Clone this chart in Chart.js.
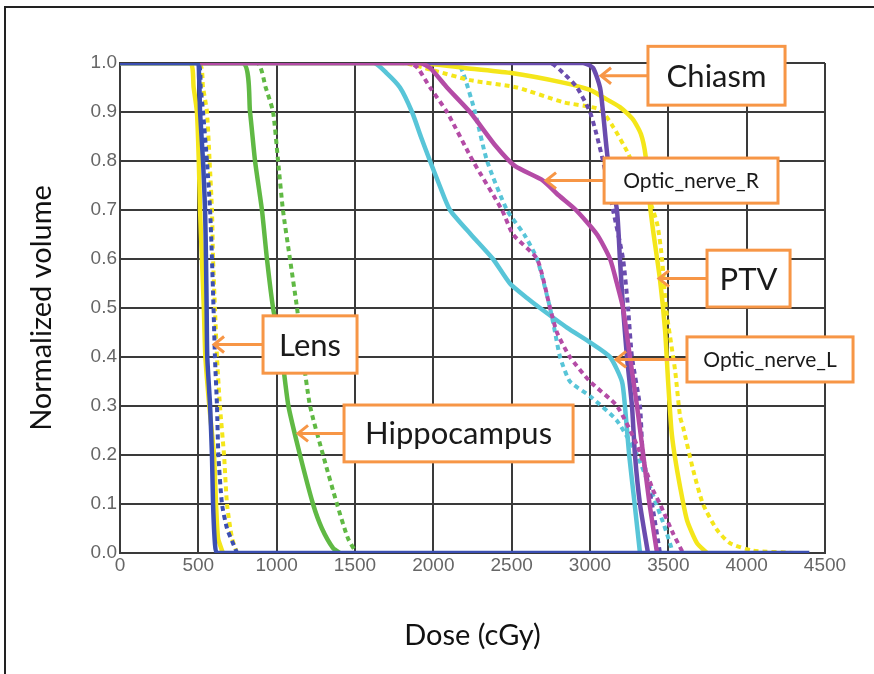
<!DOCTYPE html>
<html>
<head>
<meta charset="utf-8">
<script src="https://cdn.jsdelivr.net/npm/chart.js@4/dist/chart.umd.min.js"></script>
<style>
  html, body { margin: 0; padding: 0; background: #fff; }
  #wrap { width: 874px; height: 674px; }
</style>
</head>
<body>
<div id="wrap"><canvas id="dvh"></canvas></div>
<script>
// DVH curves: [dose (cGy), normalized volume]
const lensBlueSolid = [[0,1],[490,1],[505,0.97],[511,0.9],[530,0.8],[543,0.7],[549,0.6],[553,0.5],[557,0.4],[575,0.3],[587,0.2],[594,0.1],[606,0.02],[620,0],[4400,0]];
const lensBlueDotted = [[0,1],[495,1],[515,0.95],[530,0.9],[555,0.8],[575,0.7],[587,0.6],[597,0.5],[606,0.4],[619,0.3],[628,0.2],[651,0.1],[683,0.05],[721,0.02],[747,0]];
const lensYellowSolid = [[0,1],[447,1],[470,0.95],[491,0.9],[503,0.8],[511,0.7],[523,0.6],[535,0.5],[545,0.4],[570,0.3],[600,0.2],[613,0.1],[626,0.03],[657,0]];
const lensYellowDotted = [[0,1],[505,1],[530,0.95],[555,0.9],[572,0.8],[587,0.7],[594,0.6],[606,0.5],[619,0.4],[638,0.3],[664,0.2],[683,0.1],[715,0.03],[747,0]];

const hippoSolid = [[0,1],[785,1],[830,0.9],[862,0.8],[906,0.7],[938,0.6],[977,0.5],[1034,0.4],[1075,0.3],[1149,0.2],[1232,0.1],[1289,0.05],[1360,0.01],[1404,0]];
const hippoDotted = [[0,1],[874,1],[930,0.95],[977,0.9],[1009,0.8],[1040,0.7],[1085,0.6],[1130,0.5],[1168,0.4],[1213,0.3],[1296,0.2],[1385,0.1],[1455,0.03],[1513,0],[1560,0]];

const nerveLSolid = [[0,1],[1620,1],[1700,0.98],[1787,0.95],[1864,0.9],[1920,0.85],[1979,0.8],[2040,0.75],[2106,0.7],[2240,0.65],[2381,0.6],[2489,0.55],[2600,0.52],[2681,0.5],[2853,0.46],[3000,0.43],[3128,0.4],[3204,0.35],[3223,0.3],[3250,0.2],[3285,0.1],[3319,0]];
const nerveLDotted = [[0,1],[2150,1],[2190,0.98],[2266,0.9],[2343,0.8],[2470,0.7],[2580,0.65],[2662,0.6],[2745,0.5],[2777,0.45],[2809,0.4],[2872,0.35],[3000,0.32],[3172,0.27],[3300,0.2],[3400,0.12],[3480,0.05],[3530,0]];

const nerveRSolid = [[500,1],[1915,1],[1979,0.99],[2087,0.95],[2234,0.9],[2400,0.83],[2520,0.79],[2700,0.76],[2800,0.73],[2910,0.7],[3045,0.65],[3128,0.6],[3172,0.55],[3211,0.5],[3255,0.4],[3300,0.3],[3340,0.2],[3380,0.1],[3428,0]];
const nerveRDotted = [[500,1],[1850,1],[1900,0.99],[1979,0.95],[2087,0.9],[2253,0.8],[2438,0.7],[2509,0.65],[2662,0.6],[2745,0.5],[2789,0.45],[2872,0.4],[3000,0.35],[3172,0.3],[3300,0.22],[3400,0.13],[3447,0.1],[3530,0.04],[3594,0]];

const chiasmSolid = [[0,1],[2955,1],[3019,0.99],[3064,0.95],[3083,0.9],[3115,0.8],[3172,0.7],[3191,0.6],[3211,0.5],[3236,0.4],[3268,0.3],[3287,0.2],[3319,0.1],[3370,0]];
const chiasmDotted = [[0,1],[2745,1],[2828,0.98],[2917,0.95],[3000,0.9],[3045,0.85],[3083,0.8],[3147,0.7],[3211,0.6],[3243,0.5],[3268,0.4],[3319,0.3],[3338,0.2],[3396,0.1],[3447,0]];

const ptvSolid = [[0,1],[1900,1],[2200,0.99],[2489,0.98],[2828,0.96],[3000,0.945],[3083,0.93],[3191,0.91],[3274,0.885],[3325,0.855],[3355,0.81],[3383,0.71],[3402,0.66],[3447,0.557],[3479,0.455],[3498,0.353],[3520,0.25],[3540,0.2],[3575,0.135],[3619,0.067],[3683,0.02],[3747,0]];
const ptvDotted = [[0,1],[1800,1],[2000,0.985],[2234,0.965],[2534,0.95],[2828,0.92],[3064,0.905],[3147,0.87],[3236,0.82],[3300,0.775],[3380,0.72],[3430,0.67],[3460,0.6],[3485,0.5],[3543,0.373],[3575,0.278],[3594,0.257],[3658,0.17],[3721,0.1],[3811,0.047],[3894,0.02],[4040,0.005],[4320,0]];

const xTicks = [0, 500, 1000, 1500, 2000, 2500, 3000, 3500, 4000, 4500];
const yTicks = [0, 0.1, 0.2, 0.3, 0.4, 0.5, 0.6, 0.7, 0.8, 0.9, 1.0];

// callout boxes, in data units (box corners + where the arrow points)
const callouts = [
  { text: 'Chiasm',        x0: 3370, x1: 4245, y0: 1.034, y1: 0.914, tip: 3064, size: 31 },
  { text: 'Optic_nerve_R', x0: 3090, x1: 4200, y0: 0.806, y1: 0.714, tip: 2713, size: 21 },
  { text: 'PTV',           x0: 3747, x1: 4277, y0: 0.618, y1: 0.502, tip: 3434, size: 31 },
  { text: 'Optic_nerve_L', x0: 3619, x1: 4679, y0: 0.441, y1: 0.349, tip: 3160, size: 21 },
  { text: 'Lens',          x0: 913,  x1: 1513, y0: 0.484, y1: 0.367, tip: 594,  size: 31 },
  { text: 'Hippocampus',   x0: 1430, x1: 2892, y0: 0.302, y1: 0.186, tip: 1130, size: 31 }
];

const BLUE = '#3b4fb2';
const YELLOW = '#f4e61a';
const GREEN = '#60b944';
const CYAN = '#58c5d8';
const MAGENTA = '#b44ba6';
const PURPLE = '#6a4cae';

const toXY = arr => arr.map(p => ({ x: p[0], y: p[1] }));

function curve(data, color, dotted) {
  return {
    data: toXY(data),
    borderColor: color,
    backgroundColor: color,
    borderWidth: dotted ? 4 : 4.5,
    borderDash: dotted ? [5, 4] : [],
    pointRadius: 0,
    tension: 0.2,
    fill: false
  };
}

// first dataset ends up on top
const datasets = [
  curve(lensBlueSolid, BLUE, false),
  curve(lensBlueDotted, BLUE, true),
  curve(nerveRSolid, MAGENTA, false),
  curve(nerveRDotted, MAGENTA, true),
  curve(chiasmSolid, PURPLE, false),
  curve(chiasmDotted, PURPLE, true),
  curve(ptvSolid, YELLOW, false),
  curve(ptvDotted, YELLOW, true),
  curve(nerveLSolid, CYAN, false),
  curve(nerveLDotted, CYAN, true),
  curve(hippoSolid, GREEN, false),
  curve(hippoDotted, GREEN, true),
  curve(lensYellowSolid, YELLOW, false),
  curve(lensYellowDotted, YELLOW, true)
];

// white page + the left/top frame lines of the figure
const framePlugin = {
  id: 'frame',
  beforeDraw(chart) {
    const ctx = chart.ctx;
    ctx.save();
    ctx.fillStyle = '#fff';
    ctx.fillRect(0, 0, chart.width, chart.height);
    ctx.strokeStyle = '#222';
    ctx.lineWidth = 2;
    ctx.beginPath();
    ctx.moveTo(5, chart.height);
    ctx.lineTo(5, 7);
    ctx.lineTo(chart.width, 7);
    ctx.stroke();
    ctx.restore();
  }
};

// orange labelled boxes with arrows
const calloutPlugin = {
  id: 'callouts',
  afterDatasetsDraw(chart) {
    const ctx = chart.ctx;
    const xs = chart.scales.x, ys = chart.scales.y;
    ctx.save();
    callouts.forEach(c => {
      const left = xs.getPixelForValue(c.x0), right = xs.getPixelForValue(c.x1);
      const top = ys.getPixelForValue(c.y0), bottom = ys.getPixelForValue(c.y1);
      const midY = (top + bottom) / 2;
      const tipX = xs.getPixelForValue(c.tip);

      ctx.strokeStyle = '#f79646';
      ctx.lineWidth = 3;
      ctx.lineCap = 'butt';
      ctx.beginPath();
      ctx.moveTo(left, midY);
      ctx.lineTo(tipX + 2, midY);
      ctx.stroke();
      ctx.beginPath();
      ctx.moveTo(tipX + 11, midY - 8);
      ctx.lineTo(tipX + 1, midY);
      ctx.lineTo(tipX + 11, midY + 8);
      ctx.stroke();

      ctx.fillStyle = '#fff';
      ctx.fillRect(left, top, right - left, bottom - top);
      ctx.strokeRect(left, top, right - left, bottom - top);

      ctx.fillStyle = '#1a1a1a';
      ctx.font = c.size + 'px Lato';
      ctx.textAlign = 'center';
      ctx.textBaseline = 'middle';
      ctx.fillText(c.text, (left + right) / 2, midY + 1);
    });
    ctx.restore();
  }
};

new Chart(document.getElementById('dvh'), {
  type: 'line',
  data: { datasets },
  options: {
    responsive: true,
    maintainAspectRatio: false,
    animation: false,
    events: [],
    layout: { padding: { left: 0, top: 63, right: 49, bottom: 0 } },
    plugins: {
      legend: { display: false },
      tooltip: { enabled: false }
    },
    scales: {
      x: {
        type: 'linear',
        min: 0,
        max: 4500,
        afterBuildTicks: s => { s.ticks = xTicks.map(v => ({ value: v })); },
        afterFit: s => { s.height = 121; },
        ticks: {
          color: '#666',
          font: { family: "'Liberation Sans', Arial, sans-serif", size: 19 },
          padding: 1,
          maxRotation: 0,
          callback: v => String(v)
        },
        grid: { color: '#3a3a3a', lineWidth: 2, drawTicks: false },
        border: { color: '#3a3a3a', width: 2 },
        title: {
          display: true,
          text: 'Dose (cGy)',
          color: '#111',
          font: { family: 'Lato', size: 29 },
          padding: { top: 0, bottom: 21 }
        }
      },
      y: {
        type: 'linear',
        min: 0,
        max: 1,
        afterBuildTicks: s => { s.ticks = yTicks.map(v => ({ value: v })); },
        afterFit: s => { s.width = 120; },
        ticks: {
          color: '#666',
          font: { family: "'Liberation Sans', Arial, sans-serif", size: 19 },
          padding: 3,
          callback: v => v.toFixed(1)
        },
        grid: { color: '#3a3a3a', lineWidth: 2, drawTicks: false },
        border: { color: '#3a3a3a', width: 2 },
        title: {
          display: true,
          text: 'Normalized volume',
          color: '#111',
          font: { family: 'Lato', size: 29 },
          padding: { top: 24, bottom: 0 }
        }
      }
    }
  },
  plugins: [framePlugin, calloutPlugin]
});
</script>
</body>
</html>
